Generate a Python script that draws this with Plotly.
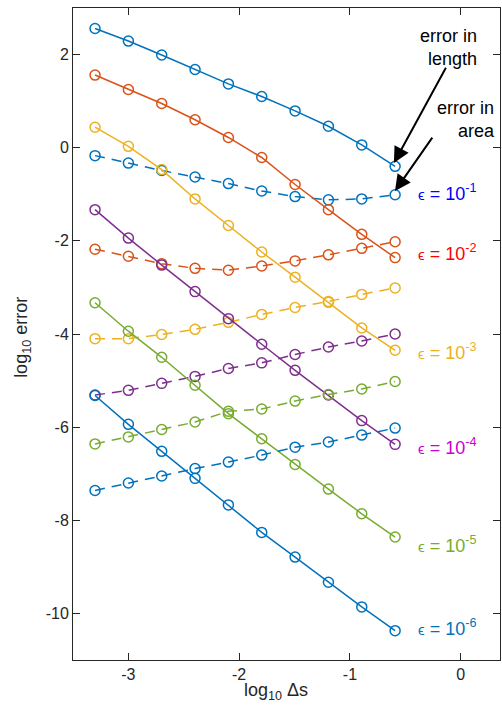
import plotly.graph_objects as go

# log10 of the step size
log_ds = [-3.301, -3.0, -2.699, -2.398, -2.097, -1.796, -1.495, -1.194, -0.893, -0.592]

# log10 error in length (solid) and in area (dashed), one pair per epsilon
len_e1 = [2.56, 2.29, 1.99, 1.68, 1.37, 1.10, 0.79, 0.46, 0.06, -0.40]
area_e1 = [-0.17, -0.33, -0.49, -0.63, -0.77, -0.93, -1.05, -1.12, -1.10, -1.01]
len_e2 = [1.56, 1.25, 0.95, 0.60, 0.22, -0.21, -0.79, -1.33, -1.86, -2.36]
area_e2 = [-2.18, -2.33, -2.49, -2.59, -2.63, -2.54, -2.43, -2.30, -2.16, -2.02]
len_e3 = [0.44, 0.03, -0.47, -1.10, -1.67, -2.24, -2.78, -3.32, -3.87, -4.35]
area_e3 = [-4.10, -4.10, -4.01, -3.90, -3.75, -3.58, -3.43, -3.30, -3.15, -3.01]
len_e4 = [-1.33, -1.94, -2.52, -3.09, -3.67, -4.22, -4.78, -5.31, -5.86, -6.37]
area_e4 = [-5.31, -5.21, -5.06, -4.91, -4.74, -4.62, -4.44, -4.28, -4.15, -4.00]
len_e5 = [-3.33, -3.94, -4.50, -5.10, -5.71, -6.25, -6.80, -7.33, -7.86, -8.36]
area_e5 = [-6.36, -6.21, -6.05, -5.89, -5.66, -5.61, -5.44, -5.30, -5.18, -5.02]
len_e6 = [-5.32, -5.94, -6.52, -7.10, -7.67, -8.26, -8.79, -9.33, -9.86, -10.37]
area_e6 = [-7.36, -7.20, -7.05, -6.89, -6.75, -6.60, -6.43, -6.32, -6.17, -6.02]

eps_exponents = ["-1", "-2", "-3", "-4", "-5", "-6"]
eps_label_y = [-0.96, -2.25, -4.37, -6.42, -8.52, -10.30]

x_ticks = [-3, -2, -1, 0]
x_tick_text = ["-3", "-2", "-1", "0"]
y_ticks = [-10, -8, -6, -4, -2, 0, 2]
y_tick_text = ["-10", "-8", "-6", "-4", "-2", "0", "2"]

line_colors = ["#0072BD", "#D95319", "#EDB120", "#7E2F8E", "#77AC30", "#0072BD"]
label_colors = ["#0000FF", "#FF0000", "#EDB120", "#CC00CC", "#77AC30", "#0072BD"]

length_series = [len_e1, len_e2, len_e3, len_e4, len_e5, len_e6]
area_series = [area_e1, area_e2, area_e3, area_e4, area_e5, area_e6]

FONT = "Liberation Sans, Arial, Helvetica, sans-serif"
AXIS_COLOR = "#262626"

fig = go.Figure()

for i in range(6):
    c = line_colors[i]
    fig.add_trace(go.Scatter(
        x=log_ds, y=length_series[i], mode="lines+markers",
        line=dict(color=c, width=1.5),
        marker=dict(symbol="circle-open", size=10, line=dict(color=c, width=1.5)),
        showlegend=False,
    ))
    fig.add_trace(go.Scatter(
        x=log_ds, y=area_series[i], mode="lines+markers",
        line=dict(color=c, width=1.5, dash="10px,7px"),
        marker=dict(symbol="circle-open", size=10, line=dict(color=c, width=1.5)),
        showlegend=False,
    ))

annotations = []
for exp, ly, lc in zip(eps_exponents, eps_label_y, label_colors):
    annotations.append(dict(
        x=-0.40, y=ly, xref="x", yref="y", xanchor="left", yanchor="middle",
        text=f"<span style='font-size:15px'>ϵ</span> = 10<sup>{exp}</sup>",
        showarrow=False, font=dict(family=FONT, size=18, color=lc),
    ))

# callouts pointing at the largest-step points of the epsilon = 0.1 curves
annotations += [
    dict(x=-0.603, y=-0.33, ax=-0.126, ay=1.75, xref="x", yref="y", axref="x", ayref="y",
         text="", showarrow=True, arrowhead=2, arrowsize=1.6, arrowwidth=2, arrowcolor="black"),
    dict(x=-0.593, y=-0.93, ax=-0.247, ay=0.25, xref="x", yref="y", axref="x", ayref="y",
         text="", showarrow=True, arrowhead=2, arrowsize=1.6, arrowwidth=2, arrowcolor="black"),
    dict(x=0.165, y=2.15, xref="x", yref="y", xanchor="right", yanchor="middle", align="right",
         text="error in<br>length", showarrow=False, font=dict(family=FONT, size=18, color="black")),
    dict(x=0.325, y=0.61, xref="x", yref="y", xanchor="right", yanchor="middle", align="right",
         text="error in<br>area", showarrow=False, font=dict(family=FONT, size=18, color="black")),
    # axis titles
    dict(x=0.475, y=-0.048, xref="paper", yref="paper", xanchor="center", yanchor="middle",
         text="log<sub>10</sub> Δs", showarrow=False, font=dict(family=FONT, size=18, color=AXIS_COLOR)),
    dict(x=-0.118, y=0.495, xref="paper", yref="paper", xanchor="center", yanchor="middle",
         text="log<sub>10</sub> error", textangle=-90, showarrow=False,
         font=dict(family=FONT, size=18, color=AXIS_COLOR)),
]

axis_common = dict(
    showgrid=False, zeroline=False, showline=True, linecolor=AXIS_COLOR, linewidth=1,
    mirror="ticks", ticks="inside", ticklen=7, tickwidth=1, tickcolor=AXIS_COLOR,
    tickfont=dict(family=FONT, size=16, color=AXIS_COLOR),
)

fig.update_layout(
    width=502, height=710,
    margin=dict(l=73, r=2, t=8, b=50),
    plot_bgcolor="white", paper_bgcolor="white",
    xaxis=dict(range=[-3.5, 0.355], tickvals=x_ticks, ticktext=x_tick_text, **axis_common),
    yaxis=dict(range=[-11, 3], tickvals=y_ticks, ticktext=y_tick_text, **axis_common),
    annotations=annotations,
)

fig.write_html("out.html")
